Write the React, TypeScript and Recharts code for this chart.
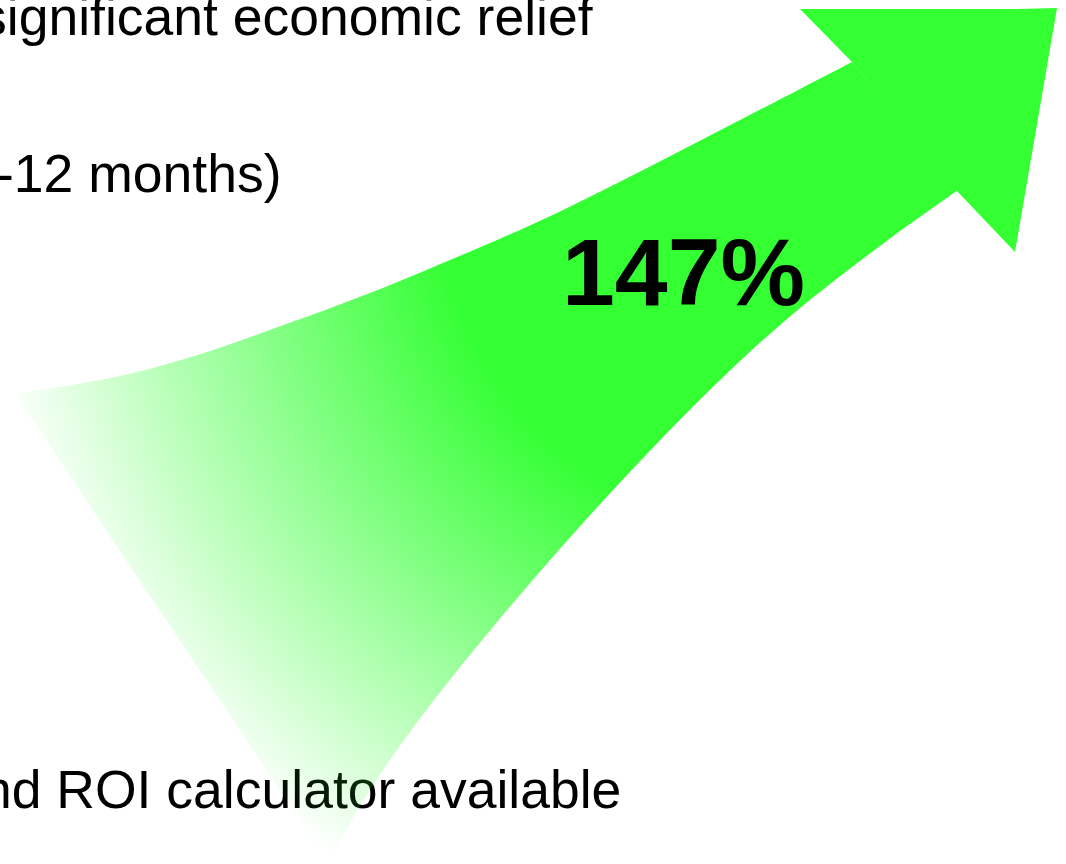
import { ComposedChart, Area, XAxis, YAxis } from 'recharts';

// arrow body: x positions with the upper and lower edge (px, y down)
const arrowX = [15, 60, 120, 180, 240, 300, 328, 360, 400, 450, 500, 560, 620, 680, 740, 800, 852, 900, 958];
const arrowTop = [394, 387, 377, 361, 341, 319, 309, 297, 281, 260, 239, 212, 182, 151, 120, 89, 62, 120, 190];
const arrowBottom = [394, 461, 551, 641, 730, 820, 862, 804, 744, 679, 618, 548, 482, 419, 360, 307, 267, 231, 190];

// arrow head
const headX = [800, 852, 956, 1015, 1057];
const headTop = [9, 9, 9, 9, 8];
const headBottom = [9, 62, 190, 252, 8];

const headline = '147%';
const textLines = ['significant economic relief', '-12 months)', 'nd ROI calculator available'];

const W = 1066;
const H = 864;
const TAIL_END = 328; // tail tip
const NOTCH = 852; // upper notch of the head

const rows = (() => {
  const byX = new Map<number, any>();
  const put = (x: number, key: string, v: number[]) => byX.set(x, { ...(byX.get(x) || { x }), [key]: v });
  arrowX.forEach((x, i) => {
    const v = [arrowTop[i], arrowBottom[i]];
    if (x <= TAIL_END) put(x, 'tail', v);
    if (x >= TAIL_END && x <= NOTCH) put(x, 'body', v);
    if (x >= NOTCH) put(x, 'wedge', v);
  });
  headX.forEach((x, i) => put(x, 'head', [headTop[i], headBottom[i]]));
  return [...byX.values()].sort((a, b) => a.x - b.x);
})();

const textStyle: React.CSSProperties = {
  position: 'absolute',
  fontFamily: '"Liberation Sans", Arial, sans-serif',
  fontSize: 53.5,
  lineHeight: 1,
  color: '#000',
  whiteSpace: 'nowrap',
};

const areaProps = {
  stroke: 'none',
  fill: 'url(#arrowFill)',
  fillOpacity: 1,
  connectNulls: true,
  dot: false,
  activeDot: false,
  isAnimationActive: false,
} as const;

export default function App() {
  return (
    <div style={{ position: 'absolute', left: 0, top: 0, width: W, height: H, overflow: 'hidden', background: '#fff' }}>
      <div style={{ ...textStyle, left: -20, top: -10 }}>{textLines[0]}</div>
      <div style={{ ...textStyle, left: -4, top: 147 }}>{textLines[1]}</div>
      <div style={{ ...textStyle, left: -18, top: 763 }}>{textLines[2]}</div>

      <div style={{ position: 'absolute', left: 0, top: 0 }}>
        <ComposedChart width={W} height={H} data={rows} margin={{ top: 0, right: 0, bottom: 0, left: 0 }}>
          <defs>
            <radialGradient id="arrowFill" gradientUnits="userSpaceOnUse" cx={803} cy={173} r={830}>
              <stop offset="0" stopColor="#33FF33" stopOpacity={1} />
              <stop offset="0.44" stopColor="#33FF33" stopOpacity={1} />
              <stop offset="1" stopColor="#33FF33" stopOpacity={0} />
            </radialGradient>
          </defs>
          <XAxis dataKey="x" type="number" domain={[0, W]} hide allowDataOverflow />
          <YAxis type="number" domain={[0, H]} reversed hide allowDataOverflow />
          <Area dataKey="tail" type="basis" {...areaProps} />
          <Area dataKey="body" type="basis" {...areaProps} />
          <Area dataKey="wedge" type="linear" {...areaProps} />
          <Area dataKey="head" type="linear" {...areaProps} fill="#33FF33" />
        </ComposedChart>
      </div>

      <div style={{ ...textStyle, fontSize: 95, fontWeight: 700, left: 562, top: 225 }}>{headline}</div>
    </div>
  );
}
